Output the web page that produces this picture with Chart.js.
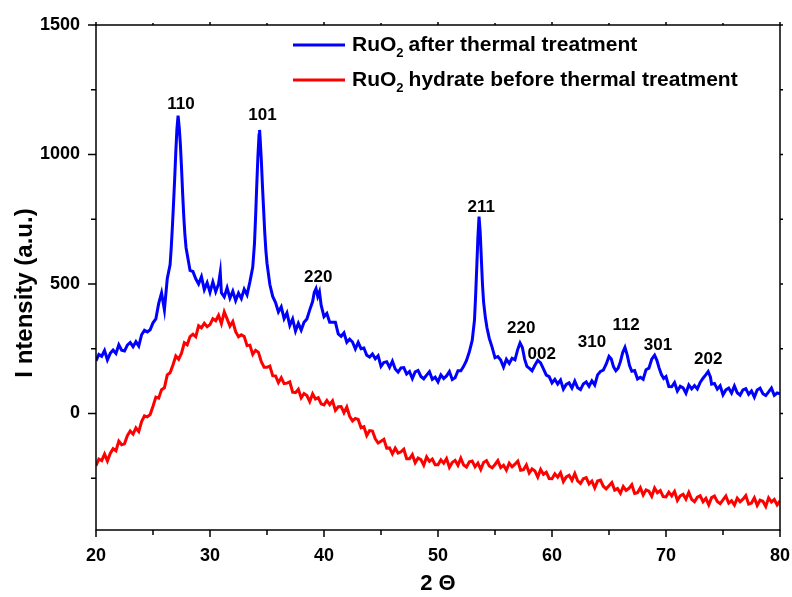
<!DOCTYPE html>
<html>
<head>
<meta charset="utf-8">
<script src="https://cdn.jsdelivr.net/npm/chart.js"></script>
<style>
  html, body { margin: 0; padding: 0; background: #fff; }
  #wrap { width: 792px; height: 597px; }
</style>
</head>
<body>
<div id="wrap"><canvas id="xrdChart" width="792" height="597"></canvas></div>
<script>
// RuO2 after thermal treatment (blue) - 2theta and intensity
const blueTheta = [
  20, 20.25, 20.5, 20.75,
  21, 21.25, 21.5, 21.75,
  22, 22.25, 22.5, 22.75,
  23, 23.25, 23.5, 23.75,
  24, 24.25, 24.5, 24.75,
  25, 25.25, 25.5, 25.75,
  26, 26.25, 26.5, 26.6, 26.7, 26.8, 26.9,
  27, 27.1, 27.2, 27.3, 27.4, 27.5, 27.6, 27.7, 27.8, 27.9,
  28, 28.25, 28.5, 28.75,
  29, 29.25, 29.5, 29.75,
  30, 30.25, 30.5, 30.75, 30.9,
  31, 31.25, 31.5, 31.75,
  32, 32.25, 32.5, 32.75,
  33, 33.25, 33.5, 33.75, 33.9,
  34, 34.1, 34.2, 34.3, 34.35, 34.4, 34.5, 34.6, 34.7, 34.8, 34.9,
  35, 35.25, 35.5, 35.75,
  36, 36.25, 36.5, 36.75,
  37, 37.25, 37.5, 37.75,
  38, 38.25, 38.5, 38.75,
  39, 39.15, 39.3, 39.45, 39.6, 39.75,
  40, 40.25, 40.5, 40.75,
  41, 41.25, 41.5, 41.75,
  42, 42.25, 42.5, 42.75,
  43, 43.25, 43.5, 43.75,
  44, 44.25, 44.5, 44.75,
  45, 45.25, 45.5, 45.75,
  46, 46.25, 46.5, 46.75,
  47, 47.25, 47.5, 47.75,
  48, 48.25, 48.5, 48.75,
  49, 49.25, 49.5, 49.75,
  50, 50.25, 50.5, 50.75,
  51, 51.25, 51.5, 51.75,
  52, 52.25, 52.5, 52.75,
  53, 53.2, 53.3, 53.4, 53.5, 53.6, 53.7, 53.8, 53.9,
  54, 54.15, 54.3, 54.5, 54.75,
  55, 55.25, 55.5, 55.75,
  56, 56.25, 56.5, 56.75,
  57, 57.2, 57.4, 57.6, 57.8,
  58, 58.25, 58.5, 58.75,
  59, 59.25, 59.5, 59.75,
  60, 60.25, 60.5, 60.75,
  61, 61.25, 61.5, 61.75,
  62, 62.25, 62.5, 62.75,
  63, 63.25, 63.5, 63.75,
  64, 64.25, 64.5, 64.75,
  65, 65.2, 65.4, 65.6, 65.8,
  66, 66.2, 66.4, 66.6, 66.8,
  67, 67.25, 67.5, 67.75,
  68, 68.25, 68.5, 68.75,
  69, 69.2, 69.4, 69.6, 69.8,
  70, 70.25, 70.5, 70.75,
  71, 71.25, 71.5, 71.75,
  72, 72.25, 72.5, 72.75,
  73, 73.25, 73.5, 73.7, 73.9,
  74, 74.25, 74.5, 74.75,
  75, 75.25, 75.5, 75.75,
  76, 76.25, 76.5, 76.75,
  77, 77.25, 77.5, 77.75,
  78, 78.25, 78.5, 78.75,
  79, 79.25, 79.5, 79.75,
  80
];
const blueIntensity = [
  203, 228, 221, 243,
  207, 232, 245, 232,
  265, 244, 241, 264,
  274, 258, 277, 260,
  304, 321, 315, 323,
  350, 365, 425, 465,
  400, 520, 575, 640, 720, 810, 905,
  1010, 1100, 1150, 1105, 1040, 950, 850, 760, 690, 640,
  615, 552, 548, 520,
  500, 528, 478, 505,
  468, 508, 470, 500, 545,
  466, 450, 485, 445,
  472, 436, 465, 444,
  480, 458, 508, 565, 655,
  760, 880, 990, 1075, 1095, 1060, 980, 880, 790, 700, 630,
  580, 498, 452, 428,
  392, 412, 366, 388,
  340, 365, 318, 348,
  322, 352, 365, 400,
  432, 468, 482, 452, 470, 418,
  374, 386, 352, 352,
  352, 307, 298, 311,
  275, 287, 276, 249,
  274, 250, 253, 225,
  218, 230, 211, 223,
  182, 197, 200, 178,
  202, 172, 160, 176,
  177, 152, 162, 135,
  161, 166, 143, 134,
  148, 161, 132, 140,
  122, 149, 135, 145,
  162, 131, 138, 165,
  165, 182, 205, 238,
  282, 360, 455, 565, 680, 760, 700, 600, 500,
  430, 372, 330, 290, 255,
  215, 220, 206, 179,
  209, 193, 213, 207,
  248, 272, 255, 210, 182,
  175, 165, 186, 205,
  195, 172, 148, 142,
  118, 132, 114, 129,
  94, 112, 118, 98,
  125, 99, 92, 114,
  122, 105, 126, 110,
  149, 162, 167, 190,
  220, 210, 180, 165, 175,
  200, 235, 255, 225, 185,
  163, 166, 133, 140,
  132, 169, 175, 210,
  225, 205, 175, 150, 135,
  142, 104, 103, 119,
  87, 105, 99, 78,
  110, 95, 108, 95,
  120, 136, 150, 162, 140,
  113, 116, 94, 107,
  72, 91, 98, 79,
  106, 80, 71, 91,
  96, 74, 87, 63,
  91, 98, 76, 69,
  83, 98, 70, 79,
  76
];

// RuO2 hydrate before thermal treatment (red), sampled every 0.25 deg from 20 to 80
const redStart = 20;
const redStep = 0.25;
const redIntensity = [
  -202, -176, -182, -157,
  -183, -154, -136, -144,
  -107, -121, -117, -86,
  -68, -80, -56, -70,
  -31, -9, -13, -4,
  28, 63, 59, 92,
  99, 149, 157, 187,
  222, 209, 233, 273,
  265, 297, 306, 296,
  339, 331, 348, 335,
  343, 366, 358, 379,
  347, 392, 365, 337,
  355, 316, 296, 304,
  297, 262, 264, 228,
  244, 236, 200, 178,
  178, 183, 146, 145,
  119, 138, 115, 117,
  122, 82, 80, 93,
  60, 77, 69, 46,
  76, 56, 61, 37,
  33, 50, 34, 49,
  12, 26, 27, 3,
  25, -11, -29, -19,
  -23, -55, -51, -85,
  -66, -68, -98, -114,
  -107, -100, -134, -133,
  -156, -134, -153, -148,
  -138, -175, -175, -159,
  -190, -172, -178, -200,
  -168, -185, -176, -198,
  -198, -179, -192, -174,
  -208, -189, -181, -200,
  -173, -199, -207, -187,
  -184, -206, -192, -216,
  -189, -182, -203, -210,
  -197, -182, -209, -200,
  -219, -192, -206, -196,
  -184, -219, -217, -199,
  -230, -214, -222, -246,
  -216, -235, -227, -251,
  -252, -233, -246, -229,
  -263, -245, -239, -258,
  -232, -260, -270, -252,
  -248, -272, -261, -287,
  -261, -257, -281, -291,
  -279, -267, -296, -290,
  -308, -282, -297, -289,
  -275, -309, -306, -287,
  -315, -295, -300, -320,
  -288, -306, -298, -321,
  -322, -304, -318, -301,
  -336, -318, -312, -331,
  -305, -332, -341, -323,
  -318, -341, -328, -353,
  -325, -319, -340, -348,
  -334, -319, -346, -337,
  -354, -327, -341, -331,
  -317, -350, -346, -326,
  -355, -335, -339, -359,
  -326, -342, -332, -353,
  -338
];

// reflection labels (hkl) and where they sit
const peakNames = ['110', '101', '220', '211', '220', '002', '310', '112', '301', '202'];
const peakTheta = [27.45, 34.6, 39.5, 53.8, 57.3, 59.1, 63.5, 66.5, 69.3, 73.7];
const peakLabelI = [1195, 1150, 527, 796, 330, 227, 273, 342, 265, 208];

const xMajorTicks = [20, 30, 40, 50, 60, 70, 80];
const xMinorTicks = [25, 35, 45, 55, 65, 75];
const yMajorTicks = [0, 500, 1000, 1500];
const yMinorTicks = [-250, 250, 750, 1250];

const seriesNames = ['after thermal treatment', 'hydrate before thermal treatment'];

function buildPoints(xs, ys){
    let arr = [];
    for (let i = 0; i < ys.length; i++){
        arr.push({x: xs[i], y: ys[i]});
    }
    return arr;
}

function buildRedPoints(){
    let arr = [];
    for (let i = 0; i < redIntensity.length; i++){
        arr.push({x: redStart + i * redStep, y: redIntensity[i]});
    }
    return arr;
}

const FONT = 'Liberation Sans, Arial, Helvetica, sans-serif';

// frame, tick marks, legend, y title and hkl labels
const decorPlugin = {
    id: 'decor',
    afterDatasetsDraw(chart){
        const ctx = chart.ctx;
        const a = chart.chartArea;
        const xs = chart.scales.x;
        const ys = chart.scales.y;

        ctx.save();
        ctx.strokeStyle = '#000';
        ctx.lineWidth = 1.5;
        ctx.strokeRect(a.left, a.top, a.right - a.left, a.bottom - a.top);

        ctx.beginPath();
        xMajorTicks.forEach(v => {
            const px = xs.getPixelForValue(v);
            ctx.moveTo(px, a.bottom); ctx.lineTo(px, a.bottom + 7);
            ctx.moveTo(px, a.top); ctx.lineTo(px, a.top - 3);
        });
        xMinorTicks.forEach(v => {
            const px = xs.getPixelForValue(v);
            ctx.moveTo(px, a.bottom); ctx.lineTo(px, a.bottom + 5);
            ctx.moveTo(px, a.top); ctx.lineTo(px, a.top - 2);
        });
        yMajorTicks.forEach(v => {
            const py = ys.getPixelForValue(v);
            ctx.moveTo(a.left, py); ctx.lineTo(a.left - 8, py);
            ctx.moveTo(a.right, py); ctx.lineTo(a.right + 3, py);
        });
        yMinorTicks.forEach(v => {
            const py = ys.getPixelForValue(v);
            ctx.moveTo(a.left, py); ctx.lineTo(a.left - 5, py);
            ctx.moveTo(a.right, py); ctx.lineTo(a.right + 3, py);
        });
        ctx.stroke();

        // legend
        const colors = ['#0000ff', '#ff0000'];
        const rows = [45, 80];
        for (let i = 0; i < 2; i++){
            const y = rows[i];
            ctx.strokeStyle = colors[i];
            ctx.lineWidth = 3;
            ctx.beginPath();
            ctx.moveTo(293, y); ctx.lineTo(345, y);
            ctx.stroke();

            ctx.fillStyle = '#000';
            ctx.textBaseline = 'middle';
            ctx.textAlign = 'left';
            ctx.font = 'bold 21px ' + FONT;
            let x = 352;
            ctx.fillText('RuO', x, y);
            x += ctx.measureText('RuO').width;
            ctx.font = 'bold 13px ' + FONT;
            ctx.fillText('2', x, y + 8);
            x += ctx.measureText('2').width + 5;
            ctx.font = 'bold 21px ' + FONT;
            ctx.fillText(seriesNames[i], x, y);
        }

        // y axis title
        ctx.save();
        ctx.translate(25, 293);
        ctx.rotate(-Math.PI / 2);
        ctx.font = 'bold 24px ' + FONT;
        ctx.textAlign = 'center';
        ctx.textBaseline = 'middle';
        ctx.fillStyle = '#000';
        ctx.fillText('I ntensity (a.u.)', 0, 0);
        ctx.restore();

        // hkl labels
        ctx.font = 'bold 17px ' + FONT;
        ctx.textAlign = 'center';
        ctx.textBaseline = 'middle';
        ctx.fillStyle = '#000';
        for (let i = 0; i < peakNames.length; i++){
            ctx.fillText(peakNames[i], xs.getPixelForValue(peakTheta[i]), ys.getPixelForValue(peakLabelI[i]));
        }
        ctx.restore();
    }
};

function buildXrd(){
    let cfg = {
        type: 'line',
        data: {
            datasets: [{
                label: 'RuO2 after thermal treatment',
                data: buildPoints(blueTheta, blueIntensity),
                borderColor: '#0000ff',
                borderWidth: 3,
                pointRadius: 0,
                fill: false,
                tension: 0
            }, {
                label: 'RuO2 hydrate before thermal treatment',
                data: buildRedPoints(),
                borderColor: '#ff0000',
                borderWidth: 3,
                pointRadius: 0,
                fill: false,
                tension: 0
            }]
        },
        options: {
            responsive: false,
            animation: false,
            layout: { padding: { top: 25, right: 12, bottom: 0, left: 0 } },
            plugins: {
                legend: { display: false },
                tooltip: { enabled: false }
            },
            scales: {
                x: {
                    type: 'linear',
                    min: 20,
                    max: 80,
                    afterFit: s => { s.height = 67; s.paddingLeft = 0; s.paddingRight = 0; },
                    afterBuildTicks: s => { s.ticks = xMajorTicks.map(v => ({value: v})); },
                    grid: { display: false, drawTicks: false },
                    border: { display: false },
                    ticks: {
                        color: '#000',
                        padding: 15,
                        maxRotation: 0,
                        callback: v => String(v),
                        font: { family: FONT, size: 18, weight: 'bold' }
                    },
                    title: {
                        display: true,
                        text: '2 \u0398',
                        color: '#000',
                        padding: { top: 0, bottom: 0 },
                        font: { family: FONT, size: 22, weight: 'bold' }
                    }
                },
                y: {
                    min: -450,
                    max: 1500,
                    afterFit: s => { s.width = 96; s.paddingTop = 0; s.paddingBottom = 0; },
                    afterBuildTicks: s => { s.ticks = yMajorTicks.map(v => ({value: v})); },
                    grid: { display: false, drawTicks: false },
                    border: { display: false },
                    ticks: {
                        color: '#000',
                        padding: 16,
                        callback: v => String(v),
                        font: { family: FONT, size: 18, weight: 'bold' }
                    }
                }
            }
        },
        plugins: [decorPlugin]
    };

    let ctx = document.getElementById('xrdChart').getContext('2d');
    new Chart(ctx, cfg);
}

buildXrd();
</script>
</body>
</html>
